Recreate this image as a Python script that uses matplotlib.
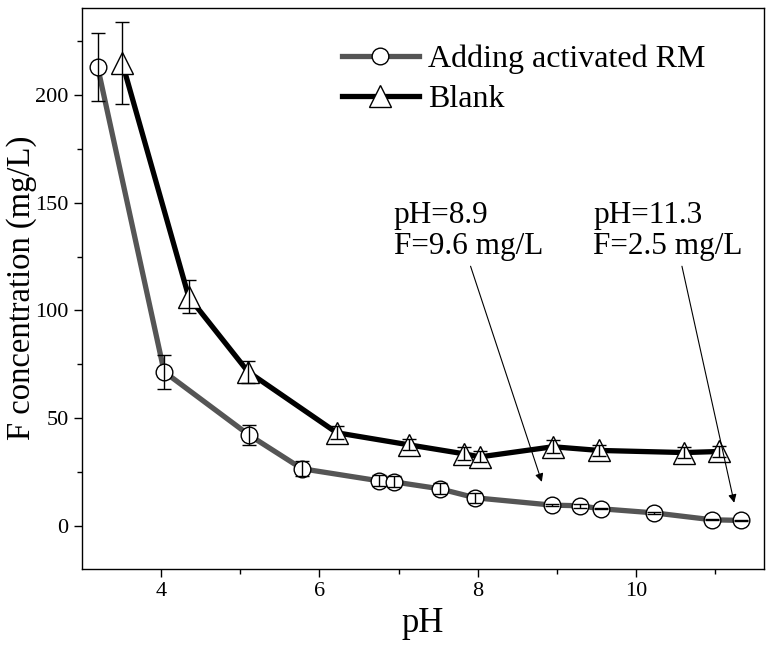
import matplotlib.pyplot as plt

plt.rcParams["font.family"] = ["Liberation Serif", "DejaVu Serif"]

# Adding activated RM
ph_rm = [3.20, 4.04, 5.11, 5.78, 6.75, 6.94, 7.52, 7.97, 8.94, 9.29, 9.56, 10.23, 10.96, 11.33]
f_rm = [213, 71.5, 42.2, 26.5, 20.9, 20.4, 17.2, 13.0, 9.6, 9.3, 7.9, 6.0, 2.8, 2.5]
err_rm = [16, 8, 4.5, 3.5, 2.5, 2.5, 2.5, 2.3, 0.3, 1.0, 0.3, 0.3, 0.3, 0.3]

# Blank
ph_blank = [3.51, 4.35, 5.10, 6.22, 7.13, 7.83, 8.03, 8.95, 9.53, 10.61, 11.05]
f_blank = [215, 106.3, 71.5, 43.2, 37.6, 33.4, 32.0, 36.7, 35.0, 34.0, 34.5]
err_blank = [19, 7.7, 5, 3, 2.5, 3, 2.5, 3, 2.5, 2.5, 2.5]

fig = plt.figure(figsize=(7.72, 6.45), dpi=100)
ax = fig.add_axes([0.106, 0.118, 0.884, 0.870])

ax.plot(ph_rm, f_rm, color="#555555", lw=3.8, marker="o", ms=12,
        mfc="white", mec="black", mew=1.0, label="Adding activated RM", zorder=2)
ax.errorbar(ph_rm, f_rm, yerr=err_rm, fmt="none", ecolor="black",
            elinewidth=1.0, capsize=5, capthick=1.0, zorder=3)

ax.plot(ph_blank, f_blank, color="black", lw=3.8, marker="^", ms=15.5,
        mfc="white", mec="black", mew=1.0, label="Blank", zorder=2)
ax.errorbar(ph_blank, f_blank, yerr=err_blank, fmt="none", ecolor="black",
            elinewidth=1.0, capsize=5, capthick=1.0, zorder=3)

ax.annotate("", xy=(8.81, 20.4), xytext=(7.91, 120.5),
            arrowprops=dict(arrowstyle="-|>", color="black", lw=0.8,
                            mutation_scale=12, shrinkA=0, shrinkB=0))
ax.annotate("", xy=(11.24, 10.7), xytext=(10.58, 120.5),
            arrowprops=dict(arrowstyle="-|>", color="black", lw=0.8,
                            mutation_scale=12, shrinkA=0, shrinkB=0))
ax.text(6.94, 151, "pH=8.9\nF=9.6 mg/L", fontsize=22.5, ha="left", va="top",
        linespacing=1.12)
ax.text(9.46, 151, "pH=11.3\nF=2.5 mg/L", fontsize=22.5, ha="left", va="top",
        linespacing=1.12)

ax.set_xlim(3.0, 11.62)
ax.set_ylim(-20, 240.5)
ax.set_xticks([4, 6, 8, 10])
ax.set_xticks([5, 7, 9, 11], minor=True)
ax.set_yticks([0, 50, 100, 150, 200])
ax.set_yticks([25, 75, 125, 175, 225], minor=True)
ax.tick_params(axis="both", which="major", labelsize=16, length=6, width=1.0)
ax.tick_params(axis="both", which="minor", length=3.5, width=1.0)
for s in ax.spines.values():
    s.set_linewidth(1.0)

ax.set_xlabel("pH", fontsize=25, labelpad=4)
ax.set_ylabel("F concentration (mg/L)", fontsize=23.5)
ax.yaxis.set_label_coords(-0.066, 0.501)

ax.legend(loc="upper left", bbox_to_anchor=(0.381, 0.935), frameon=False,
          fontsize=23, handlelength=2.4, handletextpad=0.3, labelspacing=0.35,
          borderpad=0, borderaxespad=0)

fig.savefig("out.png", dpi=100)
